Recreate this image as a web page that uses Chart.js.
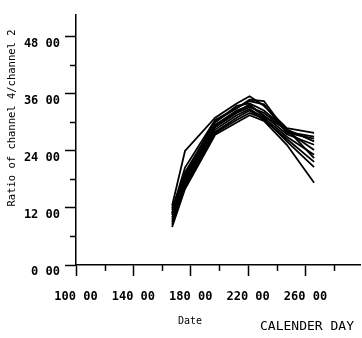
<!DOCTYPE html>
<html>
<head>
<meta charset="utf-8">
<script src="https://cdn.jsdelivr.net/npm/chart.js@4"></script>
<style>
  html, body { margin: 0; padding: 0; background: #fff; }
  #wrap { width: 362px; height: 338px; }
</style>
</head>
<body>
<div id="wrap"><canvas id="myChart" width="362" height="338"></canvas></div>
<script>
// calendar days sampled (shared by every curve)
const days = [167, 176, 197, 212, 221, 231, 247, 266];

// ratio of channel 4 / channel 2, one array per curve
const ratio01 = [12.5, 24.0, 31.0, 34.0, 35.5, 33.5, 28.8, 27.8];
const ratio02 = [11.5, 20.5, 30.5, 33.0, 34.8, 34.5, 28.0, 27.0];
const ratio03 = [11.0, 19.5, 30.0, 33.5, 34.0, 32.5, 28.5, 26.0];
const ratio04 = [10.5, 18.5, 29.5, 32.5, 33.5, 31.5, 27.5, 25.3];
const ratio05 = [10.0, 18.0, 29.0, 32.0, 33.2, 32.0, 28.2, 24.2];
const ratio06 = [9.5, 17.5, 28.5, 31.5, 32.8, 31.0, 27.0, 23.2];
const ratio07 = [9.0, 17.0, 28.0, 31.0, 32.5, 30.5, 26.5, 21.7];
const ratio08 = [8.5, 16.5, 27.8, 30.5, 32.0, 30.8, 26.0, 20.6];
const ratio09 = [8.0, 16.0, 27.4, 30.0, 31.5, 30.3, 25.3, 17.3];
const ratio10 = [12.0, 19.0, 30.2, 33.0, 34.5, 33.8, 27.8, 26.6];
const ratio11 = [10.8, 18.0, 29.2, 32.2, 33.8, 31.2, 28.6, 22.5];

const allRatios = [ratio01, ratio02, ratio03, ratio04, ratio05, ratio06,
                   ratio07, ratio08, ratio09, ratio10, ratio11];

// axis ticks
const yMajorStep = 12;
const xFirstDay = 100;
const xMajorStep = 40;

const tickFont = { family: 'DejaVu Sans Mono', size: 12, weight: 'bold' };

document.addEventListener("DOMContentLoaded", () => {
    const ctx = document.getElementById('myChart').getContext('2d');

    const datasets = allRatios.map((vals, i) => ({
        label: 'curve ' + (i + 1),
        data: days.map((d, j) => ({ x: d, y: vals[j] })),
        borderColor: '#000',
        borderWidth: 1.8,
        pointRadius: 0,
        tension: 0,
        fill: false
    }));

    // short minor ticks + free-standing titles
    const extras = {
        id: 'extras',
        afterDraw: (chart) => {
            const c = chart.ctx;
            const xs = chart.scales.x, ys = chart.scales.y;
            c.save();
            c.strokeStyle = '#000';
            c.lineWidth = 1.5;
            ys.ticks.forEach(t => {
                if (t.value % yMajorStep === 0) return;
                const py = Math.round(ys.getPixelForValue(t.value)) + 0.5;
                c.beginPath(); c.moveTo(xs.left - 6, py); c.lineTo(xs.left, py); c.stroke();
            });
            xs.ticks.forEach(t => {
                if ((t.value - xFirstDay) % xMajorStep === 0) return;
                const px = Math.round(xs.getPixelForValue(t.value)) + 0.5;
                c.beginPath(); c.moveTo(px, ys.bottom); c.lineTo(px, ys.bottom + 6); c.stroke();
            });

            c.fillStyle = '#000';
            c.textBaseline = 'middle';
            c.textAlign = 'center';
            c.font = '10px "DejaVu Sans Mono"';
            c.fillText('Date', 190, 321);
            c.font = '13px "DejaVu Sans Mono"';
            c.fillText('CALENDER DAY', 307, 327);

            c.translate(12, 118);
            c.rotate(-Math.PI / 2);
            c.font = '10.5px "DejaVu Sans Mono"';
            c.fillText('Ratio of channel 4/channel 2', 0, 0);
            c.restore();
        }
    };

    const config = {
        type: 'line',
        data: { datasets: datasets },
        options: {
            responsive: false,
            animation: false,
            layout: { padding: { top: 15, right: 2, left: 0, bottom: 0 } },
            plugins: {
                legend: { display: false },
                tooltip: { enabled: false }
            },
            scales: {
                x: {
                    type: 'linear',
                    min: 100,
                    max: 298,
                    afterFit: (s) => { s.height = 73; },
                    border: { color: '#000', width: 1.5 },
                    grid: {
                        drawOnChartArea: false,
                        tickLength: 11,
                        tickWidth: 1.5,
                        tickColor: (c) => ((c.tick && (c.tick.value - xFirstDay) % xMajorStep === 0) ? '#000' : 'rgba(0,0,0,0)')
                    },
                    ticks: {
                        stepSize: 20,
                        includeBounds: false,
                        autoSkip: false,
                        maxRotation: 0,
                        padding: 14,
                        color: '#000',
                        font: tickFont,
                        callback: (v) => ((v - xFirstDay) % xMajorStep === 0 ? v + ' 00' : '')
                    }
                },
                y: {
                    min: 0,
                    max: 52.6,
                    afterFit: (s) => { s.width = 76; },
                    border: { color: '#000', width: 1.5 },
                    grid: {
                        drawOnChartArea: false,
                        tickLength: 11,
                        tickWidth: 1.5,
                        tickColor: (c) => ((c.tick && c.tick.value % yMajorStep === 0) ? '#000' : 'rgba(0,0,0,0)')
                    },
                    ticks: {
                        stepSize: 6,
                        includeBounds: false,
                        autoSkip: false,
                        padding: 5,
                        labelOffset: 7,
                        color: '#000',
                        font: tickFont,
                        callback: (v) => (v % yMajorStep === 0 ? v + ' 00' : '')
                    }
                }
            }
        },
        plugins: [extras]
    };

    const myChart = new Chart(ctx, config);
});
</script>
</body>
</html>
